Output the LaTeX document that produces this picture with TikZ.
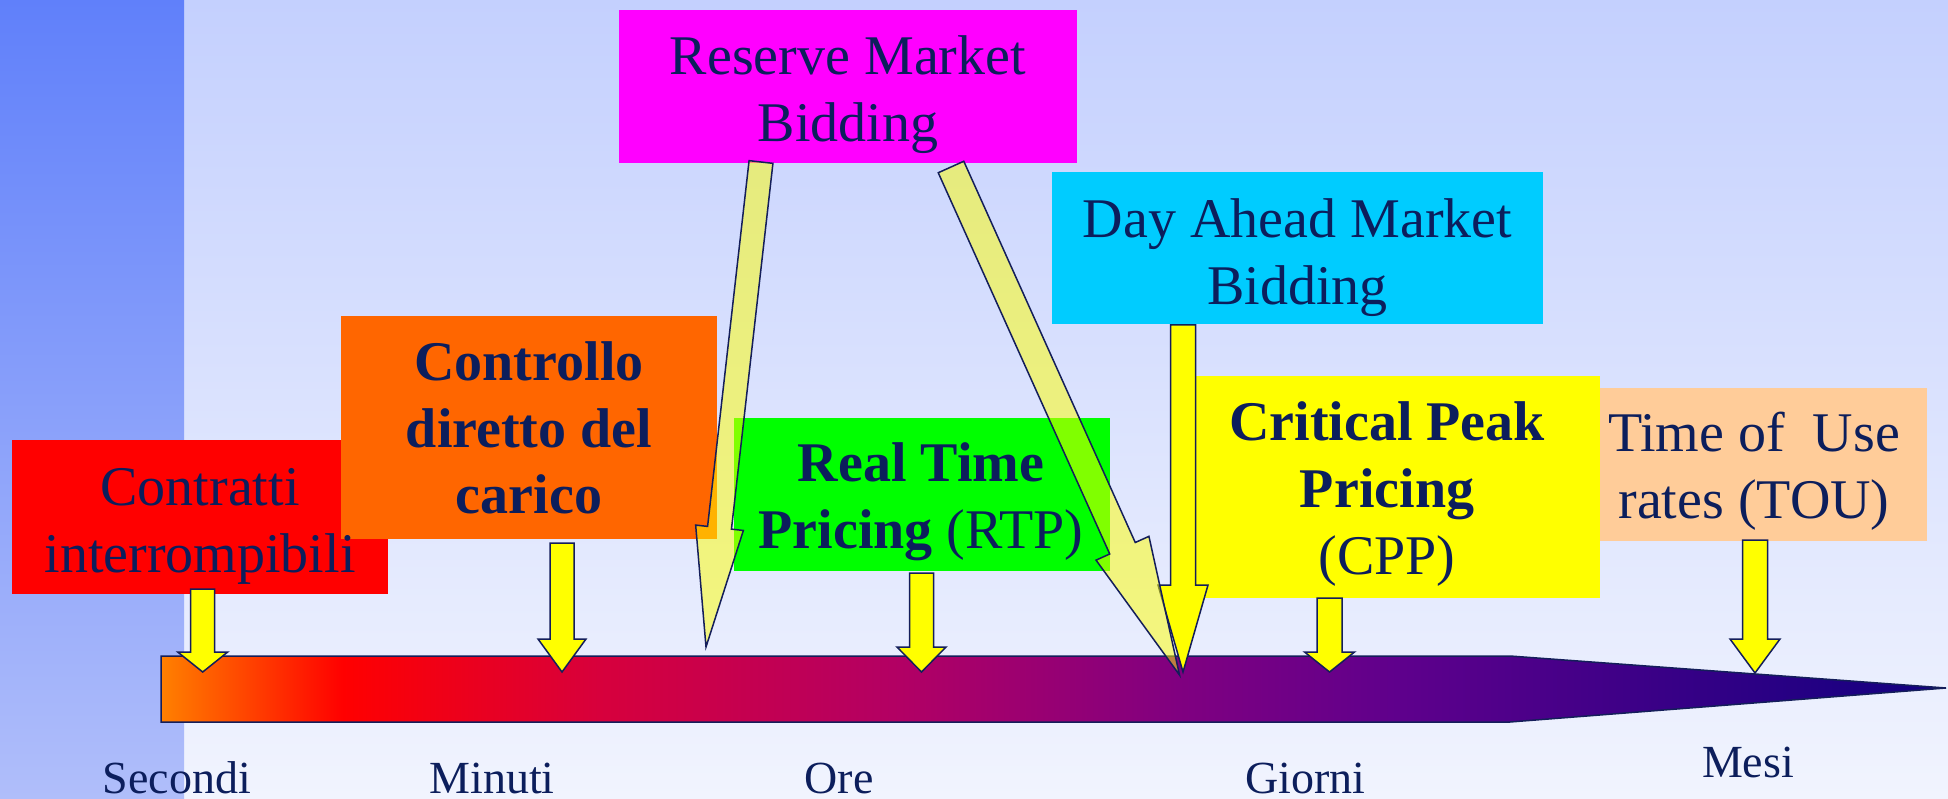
\documentclass[tikz,border=0pt]{standalone}
\usepackage{fontspec}
\setmainfont{Liberation Serif}
\usetikzlibrary{calc}

\definecolor{ink}{RGB}{12,30,92}
\definecolor{edge}{RGB}{20,30,90}
\definecolor{bgtop}{RGB}{196,208,254}
\definecolor{bgbot}{RGB}{241,244,254}
\definecolor{stripetop}{RGB}{96,128,250}
\definecolor{stripebot}{RGB}{176,190,250}
\definecolor{boxred}{RGB}{255,0,0}
\definecolor{boxorange}{RGB}{255,102,0}
\definecolor{boxmagenta}{RGB}{255,0,255}
\definecolor{boxgreen}{RGB}{0,255,0}
\definecolor{boxcyan}{RGB}{0,204,255}
\definecolor{boxyellow}{RGB}{255,255,0}
\definecolor{boxpeach}{RGB}{255,204,153}
\definecolor{tb0}{RGB}{255,128,0}
\definecolor{tb1}{RGB}{255,0,0}
\definecolor{tb2}{RGB}{215,0,60}
\definecolor{tb3}{RGB}{178,0,100}
\definecolor{tb4}{RGB}{128,0,128}
\definecolor{tb5}{RGB}{95,0,140}
\definecolor{tb6}{RGB}{16,0,128}

% time axis colour ramp: orange (seconds) to deep blue (months)
\pgfdeclarehorizontalshading{timebar}{100bp}{color(0bp)=(tb0); color(25bp)=(tb0); color(30.1bp)=(tb1); color(37.25bp)=(tb2); color(45.7bp)=(tb3); color(53.5bp)=(tb4); color(59.6bp)=(tb5); color(75bp)=(tb6); color(100bp)=(tb6)}

% block arrow: #1 style, #2 name, #3 start, #4 tip,
% #5 half shaft width, #6 half head width, #7 head length
\newcommand\tlarrow[7]{%
  \coordinate (#2-hb) at ($(#4)!#7!(#3)$);
  \path[#1] ($(#3)!#5!90:(#4)$) -- ($(#2-hb)!#5!-90:(#3)$) -- ($(#2-hb)!#6!-90:(#3)$)
    -- (#4) -- ($(#2-hb)!#6!90:(#3)$) -- ($(#2-hb)!#5!90:(#3)$) -- ($(#3)!#5!-90:(#4)$) -- cycle;
}

\begin{document}
\begin{tikzpicture}[x=1pt,y=-1pt,
  box/.style={rectangle, inner sep=0pt, outer sep=0pt},
  lbl/.style={text=ink, inner sep=0pt, anchor=base, font=\fontsize{56}{67}\selectfont},
  axislbl/.style={text=ink, inner sep=0pt, anchor=base, font=\fontsize{46}{55}\selectfont},
  solidarrow/.style={fill=boxyellow, draw=edge, line width=1.5pt, line join=miter},
  glassarrow/.style={fill=boxyellow, fill opacity=0.5, draw=edge, draw opacity=1, line width=1.5pt, line join=miter}]

\useasboundingbox (0,0) rectangle (1948,799);

% background
\fill[top color=bgtop, bottom color=bgbot] (0,0) rectangle (1948,799);
\fill[top color=stripetop, bottom color=stripebot] (0,0) rectangle (184,799);

% time axis
\coordinate (ax-a) at (161,656);
\coordinate (ax-b) at (1510,656);
\coordinate (ax-tip) at (1946,688);
\coordinate (ax-c) at (1510,722);
\coordinate (ax-d) at (161,722);
\path[shade, shading=timebar, draw=edge, line width=1.5pt]
  (ax-a) -- (ax-b) -- (ax-tip) -- (ax-c) -- (ax-d) -- cycle;

% axis labels
\node[axislbl] (secondi) at (177,793) {Secondi};
\node[axislbl] (minuti) at (492,793) {Minuti};
\node[axislbl] (ore) at (839,793) {Ore};
\node[axislbl] (giorni) at (1305.5,793) {Giorni};
\node[axislbl] (mesi) at (1748,777) {Mesi};

% programme boxes
\node[box, fill=boxred, minimum width=375.5pt, minimum height=154pt] (cont) at (199.75,517) {};
\node[box, fill=boxorange, minimum width=376pt, minimum height=223pt] (ctrl) at (529,427.5) {};
\node[box, fill=boxmagenta, minimum width=458pt, minimum height=153pt] (rmb) at (848,86.5) {};
\node[box, fill=boxgreen, minimum width=376pt, minimum height=153pt] (rtp) at (922,494.5) {};
\node[box, fill=boxcyan, minimum width=491pt, minimum height=152.5pt] (dam) at (1297.5,248.25) {};
\node[box, fill=boxyellow, minimum width=404pt, minimum height=222pt] (cpp) at (1398,487) {};
\node[box, fill=boxpeach, minimum width=327pt, minimum height=153pt] (tou) at (1763.5,464.5) {};

% box texts
\node[lbl] (cont-t) at (200,505) {\begin{tabular}[t]{@{}c@{}}Contratti\\interrompibili\end{tabular}};
\node[lbl] (ctrl-t) at (529,380) {\begin{tabular}[t]{@{}c@{}}\textbf{Controllo}\\\textbf{diretto del}\\\textbf{carico}\end{tabular}};
\node[lbl] (rmb-t) at (848,75) {\begin{tabular}[t]{@{}c@{}}Reserve Market\\Bidding\end{tabular}};
\node[lbl] (rtp-t) at (921,481.5) {\begin{tabular}[t]{@{}c@{}}\textbf{Real Time}\\\textbf{Pricing} (RTP)\end{tabular}};
\node[lbl] (dam-t) at (1297.5,237.5) {\begin{tabular}[t]{@{}c@{}}Day Ahead Market\\Bidding\end{tabular}};
\node[lbl] (cpp-t) at (1387,440.5) {\begin{tabular}[t]{@{}c@{}}\textbf{Critical Peak}\\\textbf{Pricing}\\(CPP)\end{tabular}};
\node[lbl] (tou-t) at (1754,451.5) {\begin{tabular}[t]{@{}c@{}}Time of\ \ Use\\rates (TOU)\end{tabular}};

% arrow end points
\coordinate (cont-s) at (202.7,589);   \coordinate (cont-e) at (202.7,672);
\coordinate (ctrl-s) at (562,543);     \coordinate (ctrl-e) at (562,672);
\coordinate (rtp-s) at (921.5,573);    \coordinate (rtp-e) at (921.5,672);
\coordinate (dam-s) at (1183,325);     \coordinate (dam-e) at (1183,672);
\coordinate (cpp-s) at (1329.5,598);   \coordinate (cpp-e) at (1329.5,672);
\coordinate (tou-s) at (1755,540);     \coordinate (tou-e) at (1755,673);
\coordinate (rmbl-s) at (761,162);     \coordinate (rmbl-e) at (706,647);
\coordinate (rmbr-s) at (951,167);     \coordinate (rmbr-e) at (1179.5,675);

% arrows onto the time axis
\tlarrow{solidarrow}{a1}{cont-s}{cont-e}{12pt}{25pt}{20pt}
\tlarrow{solidarrow}{a2}{ctrl-s}{ctrl-e}{12pt}{24pt}{33pt}
\tlarrow{solidarrow}{a3}{rtp-s}{rtp-e}{12pt}{24.5pt}{25pt}
\tlarrow{solidarrow}{a4}{dam-s}{dam-e}{12.5pt}{25pt}{87pt}
\tlarrow{solidarrow}{a5}{cpp-s}{cpp-e}{12.5pt}{25pt}{20pt}
\tlarrow{solidarrow}{a6}{tou-s}{tou-e}{12.5pt}{25pt}{34pt}
\tlarrow{glassarrow}{a7}{rmbl-s}{rmbl-e}{12pt}{24pt}{120pt}
\tlarrow{glassarrow}{a8}{rmbr-s}{rmbr-e}{14pt}{29pt}{139pt}

\end{tikzpicture}
\end{document}
